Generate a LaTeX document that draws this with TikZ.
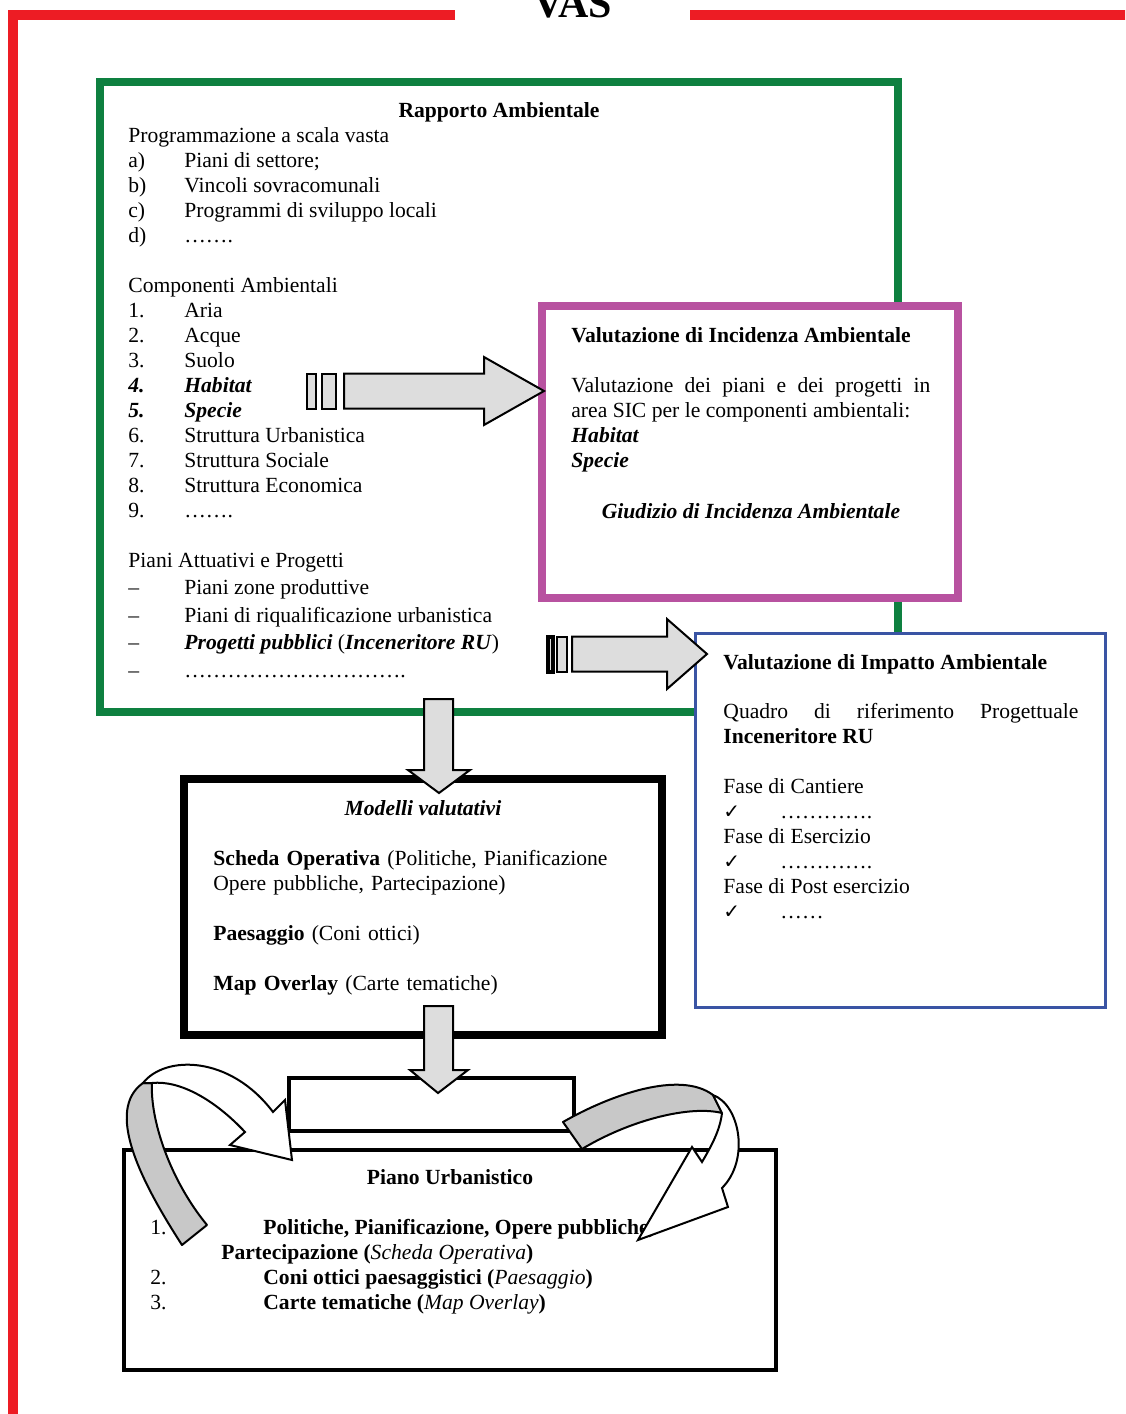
\documentclass[tikz,border=0pt]{standalone}
\usepackage{fontspec}
\setmainfont{Liberation Serif}
\newfontfamily\checkfont{DejaVu Sans}
\usetikzlibrary{positioning}

\definecolor{vasred}{RGB}{237,28,36}
\definecolor{ragreen}{RGB}{14,128,64}
\definecolor{vincapink}{RGB}{184,82,160}
\definecolor{viablue}{RGB}{58,84,164}
\definecolor{arrowfill}{RGB}{221,221,221}
\definecolor{ribbon}{RGB}{200,200,200}

\newcommand{\bodysize}{\fontsize{10.8}{12.5}\selectfont}
\newcommand{\bfit}[1]{\textbf{\textit{#1}}}
\newcommand{\ck}{{\checkfont\fontsize{10}{10}\selectfont ✓}}

\tikzset{
  greenframe/.style={draw=ragreen,line width=4pt,inner sep=0pt},
  pinkframe/.style={draw=vincapink,line width=4pt,fill=white,inner sep=0pt},
  blueframe/.style={draw=viablue,line width=1.5pt,fill=white,inner sep=0pt},
  blackframe/.style={draw=black,line width=4pt,fill=white,inner sep=0pt},
  thinframe/.style={draw=black,line width=2pt,fill=white,inner sep=0pt},
  txt/.style={inner sep=0pt,font=\bodysize,anchor=base west},
  title/.style={inner sep=0pt,font=\bodysize\bfseries,anchor=base},
  blockarrow/.style={draw=black,line width=1pt,fill=arrowfill,line join=miter},
  ribbonback/.style={draw=black,line width=1pt,fill=ribbon,line join=round},
  ribbonfront/.style={draw=black,line width=1pt,fill=white,line join=miter}
}

\begin{document}
\begin{tikzpicture}[x=0.5pt,y=-0.5pt]
  \useasboundingbox (0,0) rectangle (1125,1414);
  \clip (0,0) rectangle (1125,1414);

  \draw[vasred,line width=5pt] (455,14.5) -- (12.5,14.5) -- (12.5,1419) -- (1130,1419);
  \draw[vasred,line width=5pt] (690,14.5) -- (1130,14.5);
  \node[font=\fontsize{21}{21}\selectfont\bfseries,anchor=base,inner sep=0pt] (vas) at (573,17) {VAS};

  \node[greenframe,minimum width=399pt,minimum height=315pt] (rapporto) at (499,397) {};
  \node[pinkframe,minimum width=208pt,minimum height=146pt] (vinca) at (750,452) {};
  \node[blueframe,minimum width=205pt,minimum height=187pt] (via) at (900.5,820.5) {};
  \node[blackframe,minimum width=239pt,minimum height=128pt] (modelli) at (423,907) {};
  \node[thinframe,minimum width=142.5pt,minimum height=26.5pt] (ponte) at (431.5,1104.5) {};
  \node[thinframe,minimum width=326pt,minimum height=110pt] (piano) at (450,1260) {};

  \node[title] (ratitle) at (499,117) {Rapporto Ambientale};
  \node[txt] (ralist) at (128,142) {\begin{tabular}[t]{@{}p{28pt}@{}l@{}}
    \multicolumn{2}{@{}l@{}}{Programmazione a scala vasta}\\
    a) & Piani di settore;\\
    b) & Vincoli sovracomunali\\
    c) & Programmi di sviluppo locali\\
    d) & …….\\[12.5pt]
    \multicolumn{2}{@{}l@{}}{Componenti Ambientali}\\
    1. & Aria\\
    2. & Acque\\
    3. & Suolo\\
    \bfit{4.} & \bfit{Habitat}\\
    \bfit{5.} & \bfit{Specie}\\
    6. & Struttura Urbanistica\\
    7. & Struttura Sociale\\
    8. & Struttura Economica\\
    9. & …….
  \end{tabular}};
  \node[txt] (rapiani) at (128,567) {\renewcommand{\arraystretch}{1.1}\begin{tabular}[t]{@{}p{28pt}@{}l@{}}
    \multicolumn{2}{@{}l@{}}{Piani Attuativi e Progetti}\\
    – & Piani zone produttive\\
    – & Piani di riqualificazione urbanistica\\
    – & \bfit{Progetti pubblici} (\bfit{Inceneritore RU})\\
    – & ………………………….
  \end{tabular}};

  \node[title,anchor=base west] (vincatitle) at (571,342) {Valutazione di Incidenza Ambientale};
  \node[txt,text width=179.5pt,align=justify] (vincatext) at (571,392) {Valutazione dei piani e dei progetti in\linebreak area SIC per le componenti ambientali:\\ \bfit{Habitat}\\ \bfit{Specie}};
  \node[title,font=\bodysize\bfseries\itshape] (giudizio) at (751,518) {Giudizio di Incidenza Ambientale};

  \node[title,anchor=base west] (viatitle) at (723,669) {Valutazione di Impatto Ambientale};
  \node[txt,text width=177.5pt,align=justify] (quadro) at (723,718) {Quadro di riferimento Progettuale\linebreak \textbf{Inceneritore RU}};
  \node[txt] (fasi) at (723,793) {\begin{tabular}[t]{@{}p{28.5pt}@{}l@{}}
    \multicolumn{2}{@{}l@{}}{Fase di Cantiere}\\
    \ck & ………….\\
    \multicolumn{2}{@{}l@{}}{Fase di Esercizio}\\
    \ck & ………….\\
    \multicolumn{2}{@{}l@{}}{Fase di Post esercizio}\\
    \ck & ……
  \end{tabular}};

  \node[title,font=\bodysize\bfseries\itshape] (modtitle) at (423,815) {Modelli valutativi};
  \node[txt,text width=220pt,align=left] (modtext) at (213,865) {\textbf{Scheda Operativa} (Politiche, Pianificazione\\ Opere pubbliche, Partecipazione)\\[12.5pt] \textbf{Paesaggio} (Coni ottici)\\[12.5pt] \textbf{Map Overlay} (Carte tematiche)};

  \node[title] (pianotitle) at (450,1184) {Piano Urbanistico};
  \node[txt] (pianolist) at (150,1234) {\begin{tabular}[t]{@{}p{56.5pt}@{}l@{}}
    1. & \textbf{Politiche, Pianificazione, Opere pubbliche,}\\
    \multicolumn{2}{@{}l@{}}{\hspace{35.5pt}\textbf{Partecipazione (}\textit{Scheda Operativa}\textbf{)}}\\
    2. & \textbf{Coni ottici paesaggistici (}\textit{Paesaggio}\textbf{)}\\
    3. & \textbf{Carte tematiche (}\textit{Map Overlay}\textbf{)}
  \end{tabular}};

  \coordinate (tipA) at (544,391);
  \coordinate (tipB) at (707,654);
  \coordinate (tipC) at (439,793);
  \coordinate (tipD) at (438,1093);
  \draw[blockarrow] (307,373.5) rectangle (316,408.5);
  \draw[blockarrow] (322,373.5) rectangle (336,408.5);
  \draw[blockarrow] (tipA) -- ++(-60,-34) -- ++(0,16.5) -- ++(-140,0) -- ++(0,35) -- ++(140,0) -- ++(0,16.5) -- cycle;
  \draw[blockarrow,line width=2pt] (547.5,637) rectangle (552.5,672);
  \draw[blockarrow] (557,636.5) rectangle (567,671.5);
  \draw[blockarrow] (tipB) -- ++(-40,-35) -- ++(0,17.5) -- ++(-95,0) -- ++(0,35) -- ++(95,0) -- ++(0,17.5) -- cycle;
  \draw[blockarrow] (tipC) -- ++(-31,-23) -- ++(16,0) -- ++(0,-71) -- ++(29,0) -- ++(0,71) -- ++(17,0) -- cycle;
  \draw[blockarrow] (tipD) -- ++(-28,-23) -- ++(14,0) -- ++(0,-64) -- ++(29,0) -- ++(0,64) -- ++(15,0) -- cycle;

  \draw[ribbonback] (143,1083) .. controls (105,1110) and (140,1180) .. (182,1245) -- (207,1225) .. controls (170,1180) and (150,1120) .. (152,1083) -- cycle;
  \draw[ribbonfront] (143,1083) .. controls (165,1055) and (230,1055) .. (273,1112) -- (285,1100) -- (292,1160) -- (230,1145) -- (245,1132) .. controls (215,1100) and (180,1080) .. (152,1083) -- cycle;
  \draw[ribbonback] (563,1122) .. controls (610,1095) and (680,1070) .. (713,1095) -- (722,1113) .. controls (690,1105) and (630,1120) .. (582,1149) -- cycle;
  \draw[ribbonfront] (713,1095) .. controls (740,1105) and (750,1160) .. (722,1188) -- (728,1207) -- (638,1240) -- (692,1147) -- (702,1162) .. controls (712,1145) and (720,1130) .. (722,1113) -- cycle;
\end{tikzpicture}
\end{document}
